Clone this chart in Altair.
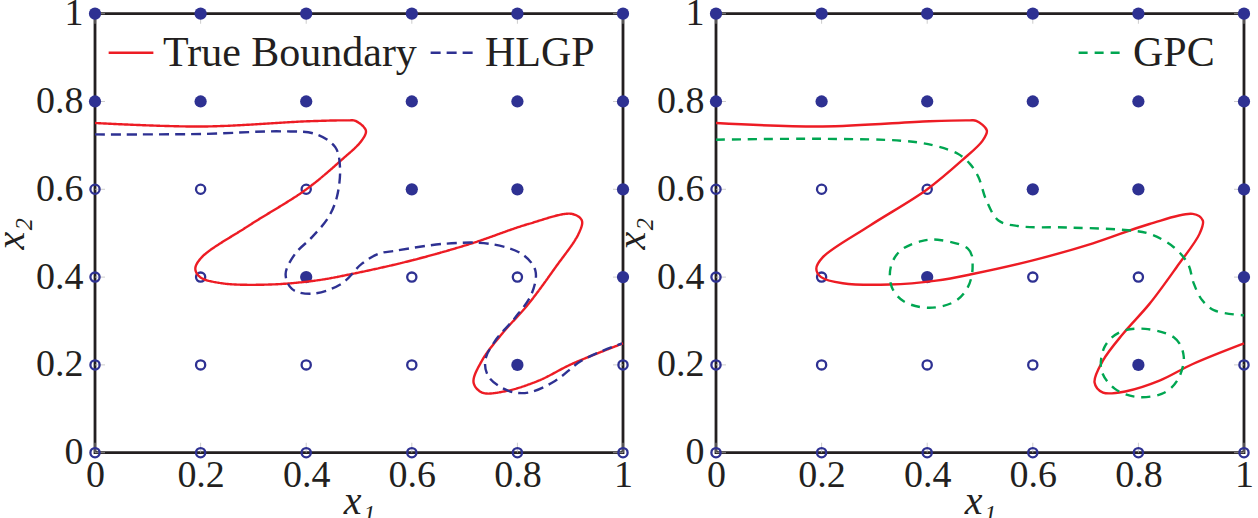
import altair as alt
import pandas as pd

# ---------------- data ----------------
grid_vals = [0.0, 0.2, 0.4, 0.6, 0.8, 1.0]
# class of each grid point (1 = filled, 0 = open), rows by x2 value
row_y = [1.0, 0.8, 0.6, 0.4, 0.2, 0.0]
row_cls = [
    [1, 1, 1, 1, 1, 1],
    [1, 1, 1, 1, 1, 1],
    [0, 0, 0, 1, 1, 1],
    [0, 0, 1, 0, 0, 1],
    [0, 0, 0, 0, 1, 0],
    [0, 0, 0, 0, 0, 0],
]

true_x = [0.0, 0.202, 0.404, 0.48, 0.493, 0.513, 0.505, 0.467, 0.399, 0.291, 0.202, 0.19, 0.199,
          0.24, 0.329, 0.417, 0.486, 0.6, 0.714, 0.821, 0.903, 0.922, 0.916, 0.872, 0.821,
          0.771, 0.733, 0.717, 0.733, 0.777, 0.84, 0.903, 1.0]
true_y = [0.751, 0.743, 0.755, 0.757, 0.756, 0.734, 0.711, 0.667, 0.599, 0.517, 0.445, 0.419, 0.4,
          0.386, 0.383, 0.392, 0.407, 0.438, 0.477, 0.521, 0.544, 0.529, 0.499, 0.422, 0.339,
          0.271, 0.21, 0.16, 0.137, 0.14, 0.164, 0.202, 0.249]

hlgp_x = [0.0, 0.202, 0.354, 0.417, 0.455, 0.464, 0.458, 0.442, 0.411, 0.379, 0.361, 0.373, 0.411,
          0.467, 0.505, 0.537, 0.569, 0.663, 0.746, 0.808, 0.834, 0.827, 0.796, 0.758, 0.739,
          0.746, 0.783, 0.821, 0.872, 0.922, 0.998]
hlgp_y = [0.725, 0.726, 0.732, 0.726, 0.696, 0.65, 0.582, 0.536, 0.491, 0.453, 0.407, 0.373, 0.362,
          0.385, 0.43, 0.453, 0.46, 0.476, 0.476, 0.453, 0.415, 0.362, 0.308, 0.255, 0.21,
          0.172, 0.141, 0.137, 0.164, 0.21, 0.249]

gpc_x = [0.0, 0.2, 0.358, 0.412, 0.458, 0.481, 0.497, 0.512, 0.535, 0.574, 0.666, 0.766, 0.82,
         0.867, 0.894, 0.905, 0.921, 0.944, 1.0]
gpc_y = [0.713, 0.715, 0.71, 0.70, 0.681, 0.658, 0.628, 0.575, 0.529, 0.516, 0.513, 0.508, 0.499,
         0.468, 0.43, 0.385, 0.347, 0.324, 0.313]

gpc_loop1_x = [0.427, 0.477, 0.486, 0.477, 0.45, 0.404, 0.358, 0.333, 0.331, 0.35, 0.389]
gpc_loop1_y = [0.484, 0.465, 0.423, 0.377, 0.343, 0.33, 0.343, 0.377, 0.423, 0.461, 0.482]

gpc_loop2_x = [0.813, 0.867, 0.886, 0.874, 0.844, 0.797, 0.755, 0.73, 0.736, 0.766]
gpc_loop2_y = [0.282, 0.263, 0.218, 0.165, 0.134, 0.127, 0.146, 0.188, 0.241, 0.275]

tick_vals = [0.0, 0.2, 0.4, 0.6, 0.8, 1.0]

# ---------------- styling ----------------
RED = "#ed1c24"
NAVY = "#2e3192"
GREEN = "#00a651"
INK = "#231f20"
TICKGRAY = "#b8b8b8"
FONT = "Liberation Serif"
W, H = 528, 439

pts = []
for yv, cls in zip(row_y, row_cls):
    for xv, c in zip(grid_vals, cls):
        pts.append({"x": xv, "y": yv, "c": c})
pts_df = pd.DataFrame(pts)
filled_df = pts_df[pts_df.c == 1]
open_df = pts_df[pts_df.c == 0]


def curve_df(xs, ys, series, seg):
    return pd.DataFrame({"x": xs, "y": ys, "series": series, "seg": seg,
                         "i": list(range(len(xs)))})


xs = alt.Scale(domain=[0, 1], nice=False, zero=False, padding=0)
ys = alt.Scale(domain=[0, 1], nice=False, zero=False, padding=0)
x_axis = alt.Axis(values=tick_vals, format="~g", ticks=False, domain=False, grid=False,
                  labelFlush=False, labelOverlap=False, labelPadding=4, titlePadding=-13)
y_axis = alt.Axis(values=tick_vals, format="~g", ticks=False, domain=False, grid=False,
                  labelOverlap=False, labelPadding=12, titlePadding=4)


def X():
    return alt.X("x:Q", scale=xs, axis=x_axis, title="x₁")


def Y():
    return alt.Y("y:Q", scale=ys, axis=y_axis, title="x₂")


bottom_ticks = alt.Chart(pd.DataFrame({"x": tick_vals, "y": [0.0] * 6})).mark_tick(
    orient="vertical", size=10, thickness=1, color=TICKGRAY, yOffset=-5).encode(x=X(), y=Y())
top_ticks = alt.Chart(pd.DataFrame({"x": tick_vals, "y": [1.0] * 6})).mark_tick(
    orient="vertical", size=10, thickness=1, color=TICKGRAY, yOffset=5).encode(x=X(), y=Y())
left_ticks = alt.Chart(pd.DataFrame({"x": [0.0] * 6, "y": tick_vals})).mark_tick(
    orient="horizontal", size=10, thickness=1, color=TICKGRAY, xOffset=5).encode(x=X(), y=Y())
right_ticks = alt.Chart(pd.DataFrame({"x": [1.0] * 6, "y": tick_vals})).mark_tick(
    orient="horizontal", size=10, thickness=1, color=TICKGRAY, xOffset=-5).encode(x=X(), y=Y())

filled_pts = alt.Chart(filled_df).mark_circle(size=150, color=NAVY, opacity=1).encode(
    x=X(), y=Y())
open_pts = alt.Chart(open_df).mark_point(shape="circle", size=85, strokeWidth=2.3, color=NAVY,
                                         filled=False, opacity=1).encode(x=X(), y=Y())


def legend(lx):
    return alt.Legend(orient="none", legendX=lx, legendY=15, direction="horizontal", title=None,
                      symbolType="stroke", symbolSize=2000, symbolStrokeWidth=2.5,
                      labelFont=FONT, labelFontSize=42, labelColor=INK, labelOffset=8,
                      columnPadding=8, padding=0, labelLimit=0)


# ---- left panel ----
left_dom = ["True Boundary", "HLGP"]
left_df = pd.concat([curve_df(true_x, true_y, "True Boundary", "t"),
                     curve_df(hlgp_x, hlgp_y, "HLGP", "h")])
left_lines = alt.Chart(left_df).mark_line(strokeWidth=2.4, interpolate="catmull-rom").encode(
    x=X(), y=Y(), order="i:Q", detail="seg:N",
    color=alt.Color("series:N", scale=alt.Scale(domain=left_dom, range=[RED, NAVY]),
                    legend=legend(12)),
    strokeDash=alt.StrokeDash("series:N", scale=alt.Scale(domain=left_dom, range=[[1, 0], [10, 6]]),
                              legend=legend(12)),
)
left = alt.layer(bottom_ticks, top_ticks, left_ticks, right_ticks, open_pts, filled_pts,
                 left_lines).properties(width=W, height=H)

# ---- right panel ----
right_true = alt.Chart(curve_df(true_x, true_y, "True Boundary", "t")).mark_line(
    strokeWidth=2.4, interpolate="catmull-rom", color=RED).encode(
    x=X(), y=Y(), order="i:Q")
gpc_dom = ["GPC"]
gpc_color = alt.Color("series:N", scale=alt.Scale(domain=gpc_dom, range=[GREEN]), legend=legend(361))
gpc_dash = alt.StrokeDash("series:N", scale=alt.Scale(domain=gpc_dom, range=[[9, 7]]), legend=legend(361))
gpc_main = alt.Chart(curve_df(gpc_x, gpc_y, "GPC", "m")).mark_line(
    strokeWidth=2.4, interpolate="catmull-rom").encode(
    x=X(), y=Y(), order="i:Q", color=gpc_color, strokeDash=gpc_dash)
gpc_loops = alt.Chart(pd.concat([curve_df(gpc_loop1_x, gpc_loop1_y, "GPC", "l1"),
                                 curve_df(gpc_loop2_x, gpc_loop2_y, "GPC", "l2")])).mark_line(
    strokeWidth=2.4, interpolate="cardinal-closed").encode(
    x=X(), y=Y(), order="i:Q", detail="seg:N", color=gpc_color, strokeDash=gpc_dash)
right = alt.layer(bottom_ticks, top_ticks, left_ticks, right_ticks, open_pts, filled_pts,
                  right_true, gpc_main, gpc_loops).properties(width=W, height=H)

chart = alt.hconcat(left, right, spacing=-23).resolve_scale(
    color="independent", strokeDash="independent").resolve_legend(
    color="independent", strokeDash="independent").properties(
    padding={"left": -10, "top": -7.3, "right": 0, "bottom": -2}, background="white"
).configure_view(stroke=INK, strokeWidth=2.8).configure_axis(
    labelFont=FONT, labelFontSize=38, labelColor=INK, titleFont=FONT, titleFontSize=40,
    titleFontStyle="italic", titleFontWeight="normal", titleColor=INK)

chart.save("out.html", embed_options={"renderer": "svg", "actions": False})
